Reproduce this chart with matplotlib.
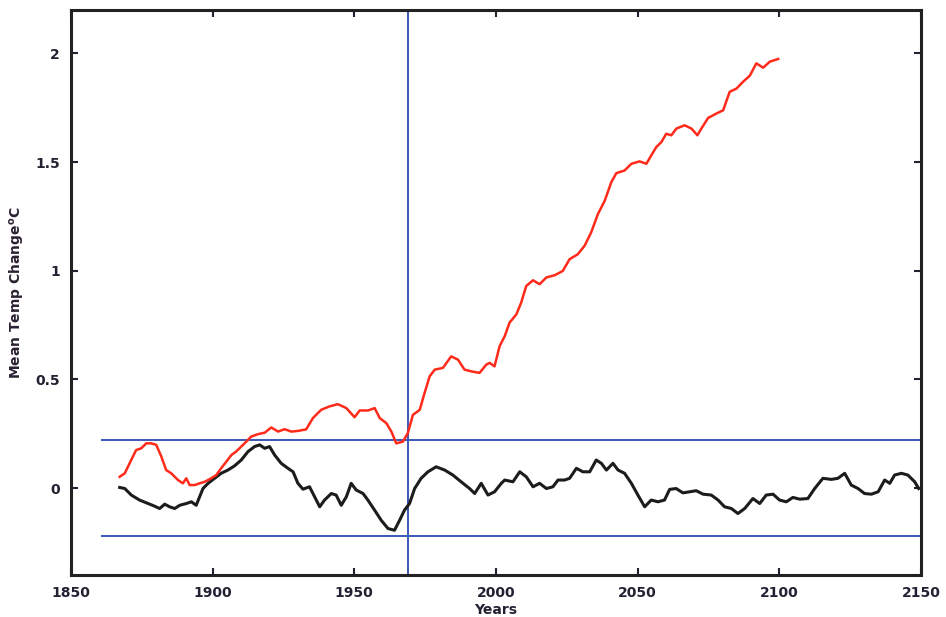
import matplotlib.pyplot as plt

plt.switch_backend('agg')

# red curve: forced run (to 2100)
red_years = [1867.2, 1869.0, 1871.3, 1873.0, 1874.8, 1876.6, 1878.3, 1880.1, 1881.9, 1883.6,
             1885.4, 1887.8, 1889.5, 1890.7, 1891.9, 1893.7, 1895.4, 1897.2, 1899.5, 1901.3,
             1903.0, 1904.8, 1906.6, 1908.3, 1910.1, 1911.9, 1913.6, 1916.0, 1918.4, 1920.7,
             1923.1, 1925.4, 1927.8, 1930.1, 1933.0, 1935.4, 1938.3, 1941.3, 1944.2, 1947.2,
             1950.1, 1951.9, 1954.8, 1957.2, 1959.0, 1961.3, 1963.1, 1964.8, 1967.2, 1968.9,
             1970.7, 1973.1, 1974.8, 1976.6, 1978.4, 1981.3, 1984.2, 1986.6, 1988.9, 1991.3,
             1994.2, 1996.6, 1997.8, 1999.5, 2001.3, 2003.1, 2004.8, 2007.2, 2008.9, 2010.7,
             2013.1, 2015.4, 2017.8, 2020.7, 2023.6, 2026.0, 2028.9, 2031.3, 2033.6, 2036.0,
             2038.4, 2040.7, 2042.5, 2045.4, 2047.8, 2050.7, 2053.1, 2054.8, 2056.6, 2058.4,
             2060.1, 2061.9, 2063.7, 2066.6, 2069.0, 2071.1, 2072.5, 2074.9, 2077.8, 2080.2,
             2082.5, 2084.9, 2087.2, 2089.6, 2091.9, 2094.3, 2096.7, 2099.6]
red_vals = [0.052, 0.068, 0.130, 0.175, 0.183, 0.206, 0.206, 0.199, 0.145, 0.083,
            0.068, 0.037, 0.022, 0.045, 0.014, 0.014, 0.022, 0.029, 0.045, 0.060,
            0.091, 0.121, 0.152, 0.168, 0.191, 0.214, 0.237, 0.248, 0.255, 0.279,
            0.260, 0.271, 0.260, 0.263, 0.270, 0.322, 0.360, 0.376, 0.386, 0.368,
            0.326, 0.357, 0.357, 0.368, 0.322, 0.299, 0.260, 0.206, 0.214, 0.253,
            0.337, 0.360, 0.437, 0.514, 0.545, 0.553, 0.606, 0.591, 0.545, 0.537,
            0.530, 0.568, 0.576, 0.560, 0.653, 0.699, 0.761, 0.799, 0.853, 0.930,
            0.956, 0.938, 0.969, 0.979, 0.999, 1.053, 1.076, 1.115, 1.176, 1.261,
            1.322, 1.407, 1.449, 1.461, 1.492, 1.503, 1.492, 1.530, 1.569, 1.592,
            1.630, 1.623, 1.654, 1.669, 1.654, 1.623, 1.654, 1.703, 1.723, 1.738,
            1.823, 1.838, 1.869, 1.897, 1.954, 1.934, 1.962, 1.974]

# black curve: control run (to 2150)
black_years = [1867.2, 1869.0, 1871.3, 1874.2, 1877.2, 1879.5, 1881.3, 1883.1, 1884.8, 1886.6,
               1888.4, 1890.7, 1892.5, 1894.2, 1895.4, 1896.6, 1898.4, 1900.7, 1903.0, 1905.4,
               1907.7, 1910.1, 1912.5, 1914.8, 1916.6, 1918.4, 1920.1, 1921.9, 1924.2, 1926.6,
               1928.4, 1930.1, 1931.9, 1934.2, 1936.0, 1937.8, 1939.5, 1941.9, 1943.6, 1945.4,
               1947.2, 1948.9, 1950.7, 1953.1, 1954.8, 1957.2, 1959.5, 1961.9, 1964.2, 1966.0,
               1967.7, 1969.5, 1971.3, 1973.6, 1976.0, 1978.9, 1981.9, 1984.8, 1987.7, 1990.7,
               1992.5, 1994.8, 1997.2, 1999.5, 2001.9, 2003.1, 2006.0, 2008.4, 2010.7, 2013.1,
               2015.4, 2017.8, 2020.1, 2021.9, 2024.2, 2026.0, 2028.4, 2030.7, 2033.1, 2035.4,
               2037.2, 2039.0, 2041.3, 2043.1, 2045.4, 2047.8, 2050.1, 2052.5, 2054.8, 2057.2,
               2059.5, 2061.3, 2063.6, 2066.0, 2068.4, 2070.7, 2073.1, 2076.0, 2078.4, 2080.7,
               2083.1, 2085.4, 2087.8, 2090.7, 2093.1, 2095.4, 2097.8, 2100.1, 2102.5, 2104.8,
               2107.2, 2110.1, 2112.5, 2115.4, 2118.4, 2120.7, 2123.1, 2125.4, 2127.8, 2130.1,
               2132.5, 2134.9, 2137.2, 2139.0, 2140.7, 2143.1, 2145.4, 2147.8, 2149.2]
black_vals = [0.003, -0.002, -0.032, -0.055, -0.071, -0.083, -0.094, -0.074, -0.086, -0.094,
              -0.079, -0.071, -0.063, -0.079, -0.040, -0.002, 0.022, 0.045, 0.068, 0.083,
              0.102, 0.129, 0.168, 0.191, 0.199, 0.183, 0.191, 0.152, 0.114, 0.091,
              0.075, 0.022, -0.005, 0.006, -0.040, -0.086, -0.055, -0.025, -0.032, -0.079,
              -0.040, 0.022, -0.009, -0.025, -0.055, -0.102, -0.148, -0.186, -0.194, -0.148,
              -0.102, -0.071, -0.002, 0.045, 0.075, 0.098, 0.083, 0.060, 0.029, -0.002,
              -0.025, 0.022, -0.032, -0.017, 0.022, 0.037, 0.029, 0.075, 0.052, 0.006,
              0.022, -0.002, 0.006, 0.037, 0.037, 0.045, 0.091, 0.075, 0.075, 0.129,
              0.114, 0.083, 0.114, 0.083, 0.068, 0.022, -0.032, -0.086, -0.055, -0.063,
              -0.055, -0.006, -0.002, -0.022, -0.017, -0.012, -0.028, -0.032, -0.055, -0.086,
              -0.094, -0.117, -0.094, -0.048, -0.071, -0.032, -0.028, -0.055, -0.063, -0.043,
              -0.051, -0.048, -0.002, 0.045, 0.040, 0.045, 0.068, 0.014, -0.002, -0.025,
              -0.028, -0.017, 0.037, 0.022, 0.060, 0.068, 0.060, 0.029, -0.002]

band = 0.22        # +/- reference band
band_start = 1861
split_year = 1969

x_ticks = [1850, 1900, 1950, 2000, 2050, 2100, 2150]
y_ticks = [0, 0.5, 1, 1.5, 2]
y_tick_labels = ['0', '0.5', '1', '1.5', '2']

fig = plt.figure(figsize=(9.46, 6.17), dpi=100)
ax = fig.add_axes([0.075, 0.068, 0.8985, 0.916])

blue = '#3b57b8'
ax.plot([band_start, 2150], [band, band], color=blue, lw=1.4, zorder=1)
ax.plot([band_start, 2150], [-band, -band], color=blue, lw=1.4, zorder=1)
ax.axvline(split_year, color=blue, lw=1.4, zorder=1)

ax.plot(red_years, red_vals, color='#ff2a1a', lw=1.8, zorder=3)
ax.plot(black_years, black_vals, color='#1c1c1c', lw=2.2, zorder=2)

ax.set_xlim(1850, 2150)
ax.set_ylim(-0.4, 2.2)
ax.set_xticks(x_ticks)
ax.set_yticks(y_ticks)
ax.set_yticklabels(y_tick_labels)

ax.tick_params(direction='in', top=True, right=True, length=5, width=1.5,
               labelsize=10, colors='#222233', pad=8)
for lbl in ax.get_xticklabels() + ax.get_yticklabels():
    lbl.set_fontweight('bold')
for sp in ax.spines.values():
    sp.set_linewidth(2.2)
    sp.set_color('#222222')

ax.set_xlabel('Years', fontsize=10, fontweight='bold', color='#222233', labelpad=2)
ax.set_ylabel('Mean Temp Change$^\\mathbf{o}$C', fontsize=10, fontweight='bold',
              color='#2a2233', labelpad=6)

plt.savefig('out.png', dpi=100)
